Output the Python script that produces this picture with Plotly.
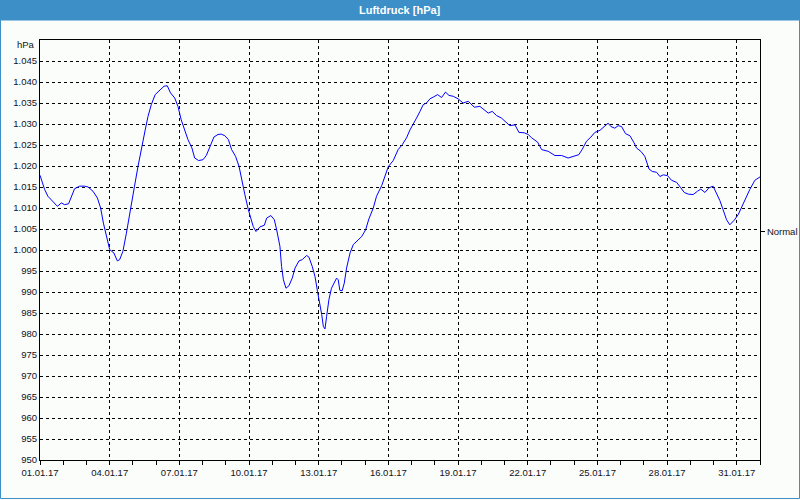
import pandas as pd
import plotly.graph_objects as go

# ---- data ----
day_offsets = [0.0, 0.2, 0.34, 0.56, 0.75, 0.92, 1.06, 1.23, 1.35, 1.49, 1.71, 1.92, 2.07, 2.28, 2.47,
               2.61, 2.73, 2.86, 3.0, 3.18, 3.33, 3.43, 3.57, 3.72, 3.86, 4.07, 4.22, 4.39, 4.53, 4.65,
               4.79, 4.96, 5.15, 5.34, 5.48, 5.62, 5.80, 5.94, 6.08, 6.23, 6.37, 6.54, 6.66, 6.83, 7.02,
               7.16, 7.30, 7.49, 7.66, 7.80, 7.96, 8.11, 8.25, 8.42, 8.57, 8.68, 8.82, 8.97, 9.08, 9.18,
               9.30, 9.47, 9.66, 9.76, 9.94, 10.09, 10.19, 10.33, 10.40, 10.48, 10.59, 10.72, 10.86,
               10.98, 11.15, 11.29, 11.48, 11.58, 11.72, 11.84, 11.95, 12.05, 12.13, 12.20, 12.27,
               12.34, 12.44, 12.55, 12.67, 12.77, 12.84, 12.91, 13.01, 13.10, 13.20, 13.35, 13.49,
               13.68, 13.85, 14.02, 14.16, 14.35, 14.49, 14.71, 14.85, 15.0, 15.21, 15.42, 15.60,
               15.78, 15.93, 16.07, 16.21, 16.36, 16.50, 16.64, 16.79, 16.93, 17.12, 17.29, 17.46,
               17.61, 17.79, 18.0, 18.22, 18.44, 18.70, 18.94, 19.16, 19.30, 19.47, 19.66, 19.87,
               20.05, 20.23, 20.45, 20.62, 20.85, 21.02, 21.17, 21.42, 21.60, 21.88, 22.17, 22.46,
               22.74, 23.03, 23.20, 23.35, 23.53, 23.72, 23.89, 24.11, 24.29, 24.46, 24.58, 24.75,
               24.89, 25.04, 25.21, 25.40, 25.58, 25.68, 25.87, 26.04, 26.22, 26.36, 26.55, 26.69,
               26.84, 27.02, 27.19, 27.41, 27.59, 27.74, 27.91, 28.12, 28.31, 28.45, 28.63, 28.80,
               28.98, 29.13, 29.27, 29.41, 29.56, 29.70, 29.89, 30.06, 30.23, 30.38, 30.56, 30.78,
               30.92, 31.0]
pressure_hpa = [1017.8, 1014.4, 1012.8, 1011.6, 1010.4, 1011.2, 1010.8, 1011.0, 1012.8, 1014.6, 1015.2,
                1015.2, 1015.0, 1014.0, 1012.4, 1010.0, 1006.4, 1003.6, 1000.1, 999.3, 997.4, 997.7,
                999.7, 1004.0, 1008.8, 1015.2, 1019.9, 1025.1, 1028.6, 1031.8, 1034.6, 1037.0, 1038.0,
                1039.0, 1039.1, 1037.4, 1036.2, 1034.2, 1031.0, 1028.6, 1026.3, 1024.3, 1021.9, 1021.3,
                1021.5, 1022.5, 1024.3, 1026.9, 1027.5, 1027.6, 1027.2, 1026.3, 1023.9, 1022.3, 1019.9,
                1016.7, 1013.2, 1009.6, 1007.2, 1005.6, 1004.4, 1005.5, 1005.9, 1007.6, 1008.2, 1007.2,
                1004.8, 1000.9, 996.1, 992.9, 990.9, 991.5, 993.3, 995.7, 997.4, 997.7, 998.7, 998.3,
                996.1, 993.7, 990.1, 987.4, 984.6, 981.8, 981.2, 984.2, 988.2, 990.9, 992.3, 993.3,
                992.9, 990.4, 990.3, 992.1, 995.7, 999.3, 1001.3, 1002.2, 1003.2, 1004.8, 1007.4,
                1010.0, 1012.8, 1015.3, 1017.5, 1019.9, 1021.3, 1023.9, 1025.1, 1026.7, 1028.6, 1030.2,
                1031.4, 1033.0, 1034.6, 1035.0, 1036.0, 1036.4, 1037.0, 1036.3, 1037.6, 1036.8, 1036.6,
                1036.0, 1035.0, 1035.4, 1034.0, 1034.2, 1033.3, 1032.6, 1033.0, 1032.0, 1031.4, 1030.6,
                1029.6, 1029.8, 1028.0, 1027.9, 1027.5, 1026.7, 1025.7, 1023.9, 1023.5, 1022.5, 1022.5,
                1021.9, 1022.5, 1022.7, 1024.0, 1025.9, 1026.9, 1028.0, 1028.5, 1029.3, 1030.2, 1029.4,
                1029.0, 1029.6, 1029.4, 1027.7, 1027.2, 1025.5, 1024.3, 1023.5, 1022.3, 1019.3, 1018.7,
                1018.5, 1017.5, 1017.9, 1017.7, 1016.6, 1016.1, 1014.8, 1013.7, 1013.3, 1013.2, 1014.0,
                1014.5, 1013.7, 1014.8, 1015.2, 1013.6, 1011.8, 1009.6, 1007.2, 1006.0, 1007.1, 1008.4,
                1010.4, 1012.4, 1014.4, 1016.6, 1017.1, 1017.4]

start_date = "2017-01-01"
end_date = "2017-02-01"
x_tick_dates = ["2017-01-01", "2017-01-04", "2017-01-07", "2017-01-10", "2017-01-13", "2017-01-16",
                "2017-01-19", "2017-01-22", "2017-01-25", "2017-01-28", "2017-01-31"]
x_tick_labels = ["01.01.17", "04.01.17", "07.01.17", "10.01.17", "13.01.17", "16.01.17",
                 "19.01.17", "22.01.17", "25.01.17", "28.01.17", "31.01.17"]
y_tick_values = list(range(950, 1050, 5))
y_tick_labels = [f"{v:,}".replace(",", ".") for v in y_tick_values]
normal_value = 1004.4
normal_label = "Normal"
chart_title = "Luftdruck [hPa]"
unit_label = "hPa"

# ---- figure ----
times = pd.Timestamp(start_date) + pd.to_timedelta(day_offsets, unit="D")

BLUE = "#3c8fc7"
BG = "#fbfdfb"
TXT = "#111122"
FONT = "Liberation Sans"

fig = go.Figure()
fig.add_trace(go.Scatter(x=times, y=pressure_hpa, mode="lines",
                         line=dict(color="#0000ff", width=1), showlegend=False, hoverinfo="skip"))
fig.add_trace(go.Scatter(x=times[:1], y=pressure_hpa[:1], yaxis="y2", mode="lines",
                         line=dict(color="rgba(0,0,0,0)", width=0), showlegend=False, hoverinfo="skip"))

L, R, T, B = 40, 40, 40, 40
W, H = 800, 500
pw, ph = W - L - R, H - T - B


def px(xp):
    return (xp - L) / pw


def py(yp):
    return (H - B - yp) / ph


fig.update_layout(
    width=W, height=H,
    margin=dict(l=L, r=R, t=T, b=B, autoexpand=False),
    paper_bgcolor=BG, plot_bgcolor=BG,
    font=dict(family=FONT, size=9.5, color=TXT),
    xaxis=dict(
        type="date", range=[start_date, end_date],
        tickmode="array", tickvals=x_tick_dates, ticktext=x_tick_labels,
        ticks="outside", ticklen=4, tickcolor="black", tickwidth=1,
        showline=True, linecolor="black", linewidth=1, mirror=True,
        showgrid=True, gridcolor="black", gridwidth=1, griddash="3px,3px",
        zeroline=False,
        minor=dict(tick0=start_date, dtick=86400000, ticks="outside", ticklen=4,
                   tickcolor="black", showgrid=False),
        tickfont=dict(family=FONT, size=9.5, color=TXT),
    ),
    yaxis=dict(
        range=[950, 1050], tickmode="array", tickvals=y_tick_values, ticktext=y_tick_labels,
        ticks="", showline=True, linecolor="black", linewidth=1, mirror=True,
        showgrid=True, gridcolor="black", gridwidth=1, griddash="3px,3px",
        zeroline=False, tickfont=dict(family=FONT, size=9.5, color=TXT),
    ),
    yaxis2=dict(
        overlaying="y", side="right", range=[950, 1050],
        tickmode="array", tickvals=[normal_value], ticktext=[normal_label],
        ticks="outside", ticklen=4, tickcolor="black",
        showgrid=False, showline=False, zeroline=False,
        tickfont=dict(family=FONT, size=9.5, color=TXT),
    ),
    shapes=[
        dict(type="rect", xref="paper", yref="paper",
             x0=px(0), x1=px(W), y0=py(20), y1=py(0),
             fillcolor=BLUE, line=dict(width=0), layer="above"),
        dict(type="rect", xref="paper", yref="paper",
             x0=px(0.5), x1=px(W - 0.5), y0=py(H - 1.5), y1=py(20),
             fillcolor="rgba(0,0,0,0)", line=dict(color=BLUE, width=1), layer="above"),
    ],
    annotations=[
        dict(text=f"<b>{chart_title}</b>", xref="paper", yref="paper", x=px(400), y=py(10),
             xanchor="center", yanchor="middle", showarrow=False,
             font=dict(family=FONT, size=11, color="white")),
        dict(text=unit_label, xref="paper", yref="paper", x=px(37), y=py(45),
             xanchor="right", yanchor="middle", showarrow=False,
             font=dict(family=FONT, size=9.5, color=TXT)),
    ],
)

fig.write_html(
    "out.html",
    config={"displayModeBar": False, "staticPlot": True},
    post_script="document.body.style.margin='0';document.body.style.overflow='hidden';",
)
